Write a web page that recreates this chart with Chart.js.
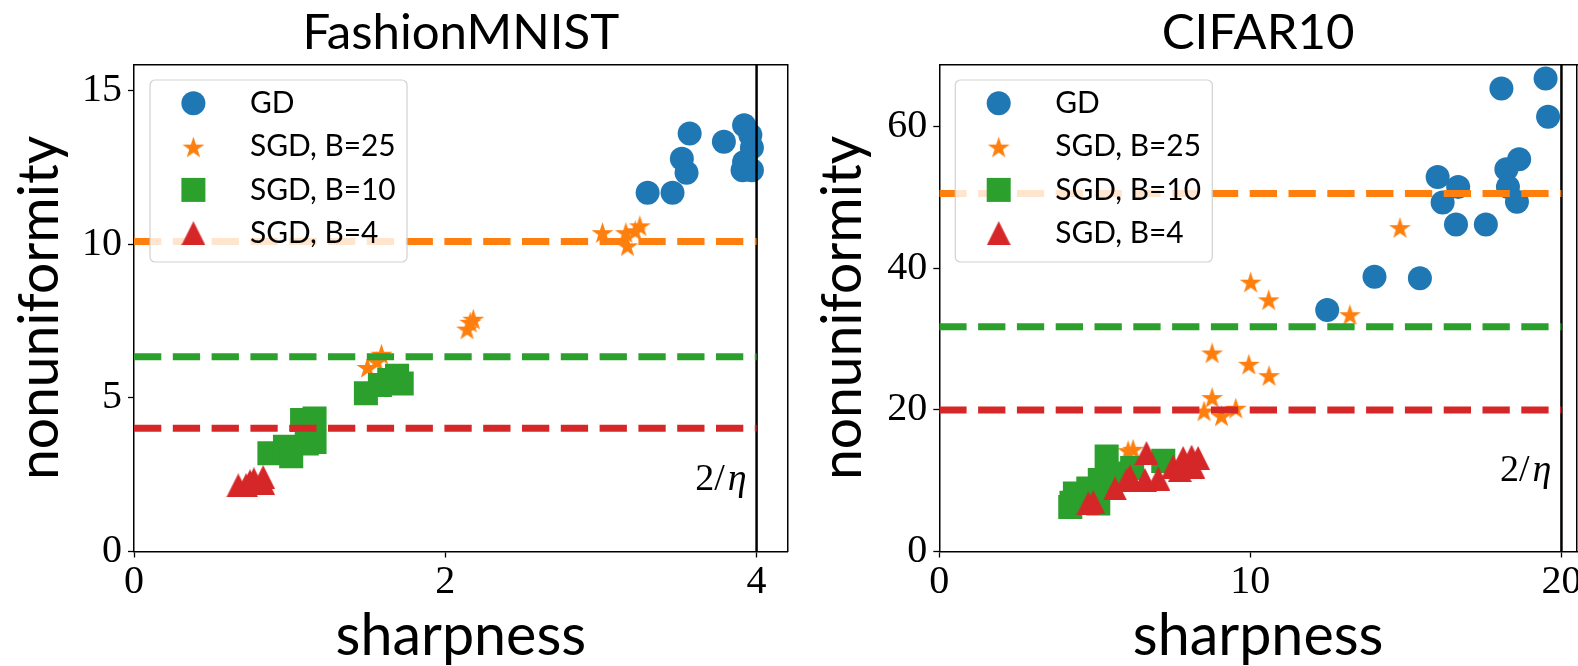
<!DOCTYPE html>
<html><head><meta charset="utf-8">
<script src="https://cdn.jsdelivr.net/npm/chart.js@4/dist/chart.umd.min.js"></script>
<style>
html,body{margin:0;padding:0;background:#fff;}
#wrap{position:relative;width:1578px;height:666px;overflow:hidden;background:#fff;}
canvas{position:absolute;top:0;}
</style></head><body>
<div id="wrap">
<canvas id="cL" width="800" height="666" style="left:0px"></canvas>
<canvas id="cR" width="778" height="666" style="left:800px"></canvas>
</div>
<script>
// ---------------- data ----------------
const seriesNames = ['GD', 'SGD, B=25', 'SGD, B=10', 'SGD, B=4'];
const seriesColors = ['#1f77b4', '#ff7f0e', '#2ca02c', '#d62728'];

// FashionMNIST
const fmTitle = 'FashionMNIST';
const fmGD = [[3.30,11.68],[3.46,11.68],[3.55,12.33],[3.52,12.79],[3.57,13.61],[3.79,13.34],[3.92,13.88],[3.96,13.56],[3.97,13.15],[3.92,12.68],[3.91,12.41],[3.97,12.41]];
const fmB25 = [[3.01,10.35],[3.17,9.92],[3.16,10.35],[3.25,10.57],[3.22,10.41],[2.14,7.21],[2.18,7.53],[2.16,7.43],[1.50,5.96],[1.59,6.39],[1.56,6.15]];
const fmB10 = [[1.49,5.15],[1.58,5.42],[1.64,5.58],[1.69,5.72],[1.72,5.47],[0.87,3.20],[0.97,3.41],[1.01,3.10],[1.08,4.28],[1.16,4.33],[1.11,3.52],[1.16,3.57]];
const fmB4 = [[0.67,2.15],[0.72,2.16],[0.745,2.28],[0.77,2.35],[0.83,2.42],[0.83,2.23]];
const fmLevels = [10.09, 6.34, 4.01];      // dashed lines for B=25, B=10, B=4
const fmEdge = 4;                          // 2/eta
const fmEdgeLabelY = 2;
const fmXTicks = [0, 2, 4];
const fmXTickLabels = ['0', '2', '4'];
const fmYTicks = [0, 5, 10, 15];
const fmYTickLabels = ['0', '5', '10', '15'];
const fmXMax = 4.2, fmYMax = 15.86;

// CIFAR10
const cfTitle = 'CIFAR10';
const cfGD = [[18.07,65.4],[19.49,66.8],[19.57,61.4],[18.64,55.4],[18.23,54.0],[18.28,51.5],[18.57,49.4],[16.02,52.9],[16.68,51.5],[16.18,49.3],[16.61,46.2],[17.57,46.2],[13.99,38.8],[15.45,38.6],[12.47,34.1]];
const cfB25 = [[14.81,45.6],[10.01,37.9],[10.59,35.4],[13.20,33.3],[8.77,27.9],[9.95,26.3],[10.60,24.7],[8.77,21.6],[8.51,19.7],[9.07,19.0],[9.53,20.1],[6.23,14.3],[6.07,14.1]];
const cfB10 = [[5.38,13.4],[4.21,6.3],[4.36,8.2],[4.79,8.9],[5.16,10.1],[5.11,6.8],[5.86,11.0],[6.2,11.8],[7.2,12.8],[4.25,6.9]];
const cfB4 = [[4.79,6.8],[4.95,7.0],[5.65,8.9],[6.02,10.1],[6.13,10.6],[6.66,13.9],[6.61,10.1],[7.04,10.3],[7.52,12.0],[7.84,13.2],[8.11,13.4],[8.32,13.2],[8.16,12.0],[7.73,11.5]];
const cfLevels = [50.57, 31.74, 20.0];
const cfEdge = 20;
const cfEdgeLabelY = 10;
const cfXTicks = [0, 10, 20];
const cfXTickLabels = ['0', '10', '20'];
const cfYTicks = [0, 20, 40, 60];
const cfYTickLabels = ['0', '20', '40', '60'];
const cfXMax = 20.5, cfYMax = 68.8;

const xLabel = 'sharpness';
const yLabel = 'nonuniformity';

// ---------------- styling ----------------
const SANS = 'Lato, "DejaVu Sans", sans-serif';
const SERIF = '"Liberation Serif", "DejaVu Serif", serif';
Chart.defaults.color = '#000';

const mctx = document.createElement('canvas').getContext('2d');
function fitSize(text, family, target) {
  mctx.font = '100px ' + family;
  const m = mctx.measureText(text);
  const w = (m.actualBoundingBoxLeft + m.actualBoundingBoxRight) || m.width;
  return 100 * target / w;
}
const titleSize = fitSize(fmTitle, SANS, 312);
const xlabSize = fitSize(xLabel, SANS, 247);
const ylabSize = fitSize(yLabel, SANS, 340);
const legSize = fitSize('SGD, B=25', SANS, 143);
const tickSize = 40;

// marker images
function starImg(color, R) {
  const c = document.createElement('canvas');
  c.width = Math.round(2 * R); c.height = Math.round(2 * R);
  const g = c.getContext('2d');
  const cx = c.width / 2, cy = c.height / 2;
  g.beginPath();
  for (let k = 0; k < 10; k++) {
    const a = -Math.PI / 2 + k * Math.PI / 5;
    const r = (k % 2 === 0) ? R : R * 0.381966;
    const px = cx + r * Math.cos(a), py = cy + r * Math.sin(a);
    if (k === 0) g.moveTo(px, py); else g.lineTo(px, py);
  }
  g.closePath(); g.fillStyle = color; g.fill();
  return c;
}
function triImg(color, s) {
  const c = document.createElement('canvas');
  c.width = s; c.height = s;
  const g = c.getContext('2d');
  g.beginPath(); g.moveTo(s / 2, 0); g.lineTo(s, s); g.lineTo(0, s); g.closePath();
  g.fillStyle = color; g.fill();
  return c;
}
const STAR = starImg(seriesColors[1], 11.5);
const TRI = triImg(seriesColors[3], 24);
const markerStyles = ['circle', STAR, 'rect', TRI];
const markerRadii = [12, 11.5, 17, 12];

function drawMarker(ctx, i, x, y) {
  const st = markerStyles[i];
  ctx.fillStyle = seriesColors[i];
  if (st === 'circle') { ctx.beginPath(); ctx.arc(x, y, 12, 0, Math.PI * 2); ctx.fill(); }
  else if (st === 'rect') { ctx.fillRect(x - 12, y - 12, 24, 24); }
  else { ctx.drawImage(st, x - st.width / 2, y - st.height / 2); }
}

function buildChart(id, D) {
  const L = D.layout;
  const scat = (data, i, order) => ({
    type: 'scatter', label: seriesNames[i],
    data: data.map(p => ({x: p[0], y: p[1]})),
    pointStyle: markerStyles[i], pointRadius: markerRadii[i], pointHoverRadius: markerRadii[i],
    backgroundColor: seriesColors[i], borderColor: seriesColors[i], borderWidth: 0, hoverBorderWidth: 0,
    order: order, xAxisID: 'x', yAxisID: 'y'
  });
  const hline = (y, i) => ({
    type: 'line', label: seriesNames[i] + ' level',
    data: [{x: 0, y: y}, {x: D.edge, y: y}],
    borderColor: seriesColors[i], borderWidth: 7, borderDash: [27.3, 11.5], borderCapStyle: 'butt',
    pointRadius: 0, pointHoverRadius: 0, fill: false, order: 0, xAxisID: 'x', yAxisID: 'y'
  });
  const vline = {
    type: 'line', label: '2/eta',
    data: [{x: D.edge, y: 0}, {x: D.edge, y: D.yMax}],
    borderColor: '#000', borderWidth: 2.5, pointRadius: 0, pointHoverRadius: 0, fill: false, order: 0,
    xAxisID: 'x', yAxisID: 'y'
  };
  const tickFont = {family: SERIF, size: tickSize, lineHeight: 1};
  const sideAxis = (pos, min, max, fitFn, extra) => Object.assign({
    type: 'linear', position: pos, min: min, max: max,
    ticks: {display: false},
    grid: {display: true, drawOnChartArea: false, drawTicks: false, color: '#000'},
    border: {display: true, color: '#000', width: 1.5},
    afterFit: fitFn
  }, extra || {});

  const legendPlugin = {
    id: 'boxLegend',
    afterDatasetsDraw(chart) {
      const ctx = chart.ctx, ca = chart.chartArea;
      // 2/eta label
      const xs = chart.scales.x, ys = chart.scales.y;
      const rx = xs.getPixelForValue(D.edge) - 10, by = ys.getPixelForValue(D.edgeLabelY);
      ctx.save();
      ctx.fillStyle = '#000'; ctx.textBaseline = 'alphabetic'; ctx.textAlign = 'left';
      ctx.font = 'italic 38px ' + SERIF;
      const wEta = ctx.measureText('\u03b7').width;
      ctx.font = '38px ' + SERIF;
      const w2 = ctx.measureText('2/').width;
      const sx = rx - wEta - w2 - 3;
      ctx.fillText('2/', sx, by);
      ctx.font = 'italic 38px ' + SERIF;
      ctx.fillText('\u03b7', sx + w2 + 3, by);
      ctx.restore();
      // legend box
      const bx = ca.left + 16, bt = 80, bw = 257, bh = 182, r = 5;
      ctx.save();
      ctx.beginPath();
      ctx.moveTo(bx + r, bt); ctx.lineTo(bx + bw - r, bt); ctx.arcTo(bx + bw, bt, bx + bw, bt + r, r);
      ctx.lineTo(bx + bw, bt + bh - r); ctx.arcTo(bx + bw, bt + bh, bx + bw - r, bt + bh, r);
      ctx.lineTo(bx + r, bt + bh); ctx.arcTo(bx, bt + bh, bx, bt + bh - r, r);
      ctx.lineTo(bx, bt + r); ctx.arcTo(bx, bt, bx + r, bt, r); ctx.closePath();
      ctx.fillStyle = 'rgba(255,255,255,0.8)'; ctx.fill();
      ctx.strokeStyle = 'rgba(204,204,204,0.9)'; ctx.lineWidth = 1.2; ctx.stroke();
      for (let i = 0; i < seriesNames.length; i++) {
        const y = bt + 23.3 + i * 43.3;
        drawMarker(ctx, i, bx + 43.4, y + (i === 1 ? 1.5 : 0));
        ctx.fillStyle = '#000'; ctx.textBaseline = 'middle'; ctx.textAlign = 'left';
        ctx.font = legSize.toFixed(2) + 'px ' + SANS;
        ctx.fillText(seriesNames[i], bx + 100, y);
      }
      ctx.restore();
    }
  };

  return new Chart(document.getElementById(id), {
    data: {
      datasets: [
        hline(D.levels[0], 1), hline(D.levels[1], 2), hline(D.levels[2], 3), vline,
        scat(D.b4, 3, 1), scat(D.b10, 2, 2), scat(D.b25, 1, 3), scat(D.gd, 0, 4)
      ]
    },
    options: {
      responsive: false, animation: false, devicePixelRatio: 1, events: [],
      layout: {padding: 0, autoPadding: false},
      plugins: {legend: {display: false}, tooltip: {enabled: false}, title: {display: false}},
      scales: {
        x: {
          type: 'linear', position: 'bottom', min: 0, max: D.xMax,
          afterBuildTicks: s => { s.ticks = D.xTicks.map(v => ({value: v})); },
          ticks: {font: tickFont, color: '#000', padding: 4.5, maxRotation: 0, autoSkip: false,
                  callback: v => D.xTickLabels[D.xTicks.indexOf(v)]},
          grid: {display: true, drawOnChartArea: false, drawTicks: true, tickLength: 6, tickWidth: 1.3, tickColor: '#000', color: '#000'},
          border: {display: true, color: '#000', width: 1.5},
          title: {display: true, text: xLabel, color: '#000', font: {family: SANS, size: xlabSize, lineHeight: 1},
                  padding: {top: 0, bottom: 666 - 636 - xlabSize / 2}},
          afterFit: s => { s.height = L.bottomH; s.paddingLeft = 0; s.paddingRight = 0; }
        },
        x2: sideAxis('top', 0, D.xMax, s => { s.height = L.topH; s.paddingLeft = 0; s.paddingRight = 0; },
          {title: {display: true, text: D.title, color: '#000', font: {family: SANS, size: titleSize, lineHeight: 1},
                   padding: {top: 33.5 - titleSize / 2, bottom: 0}}}),
        y: {
          type: 'linear', position: 'left', min: 0, max: D.yMax,
          afterBuildTicks: s => { s.ticks = D.yTicks.map(v => ({value: v})); },
          ticks: {font: tickFont, color: '#000', padding: 6, autoSkip: false,
                  callback: v => D.yTickLabels[D.yTicks.indexOf(v)]},
          grid: {display: true, drawOnChartArea: false, drawTicks: true, tickLength: 6, tickWidth: 1.3, tickColor: '#000', color: '#000'},
          border: {display: true, color: '#000', width: 1.5},
          title: {display: true, text: yLabel, color: '#000', font: {family: SANS, size: ylabSize, lineHeight: 1},
                  padding: {top: L.ylabBase - 0.387 * ylabSize - ylabSize / 2, bottom: 0}},
          afterFit: s => { s.width = L.yAxisW; s.paddingTop = 0; s.paddingBottom = 0; }
        },
        y2: sideAxis('right', 0, D.yMax, s => { s.width = L.rightW; s.paddingTop = 0; s.paddingBottom = 0; })
      }
    },
    plugins: [legendPlugin]
  });
}

buildChart('cL', {
  title: fmTitle, gd: fmGD, b25: fmB25, b10: fmB10, b4: fmB4, levels: fmLevels,
  edge: fmEdge, edgeLabelY: fmEdgeLabelY, xTicks: fmXTicks, xTickLabels: fmXTickLabels,
  yTicks: fmYTicks, yTickLabels: fmYTickLabels, xMax: fmXMax, yMax: fmYMax,
  layout: {yAxisW: 134, rightW: 12.3, topH: 64.4, bottomH: 114.5, ylabBase: 62}
});
buildChart('cR', {
  title: cfTitle, gd: cfGD, b25: cfB25, b10: cfB10, b4: cfB4, levels: cfLevels,
  edge: cfEdge, edgeLabelY: cfEdgeLabelY, xTicks: cfXTicks, xTickLabels: cfXTickLabels,
  yTicks: cfYTicks, yTickLabels: cfYTickLabels, xMax: cfXMax, yMax: cfYMax,
  layout: {yAxisW: 139.3, rightW: 1, topH: 64.4, bottomH: 114.5, ylabBase: 65}
});
</script>
</body></html>
